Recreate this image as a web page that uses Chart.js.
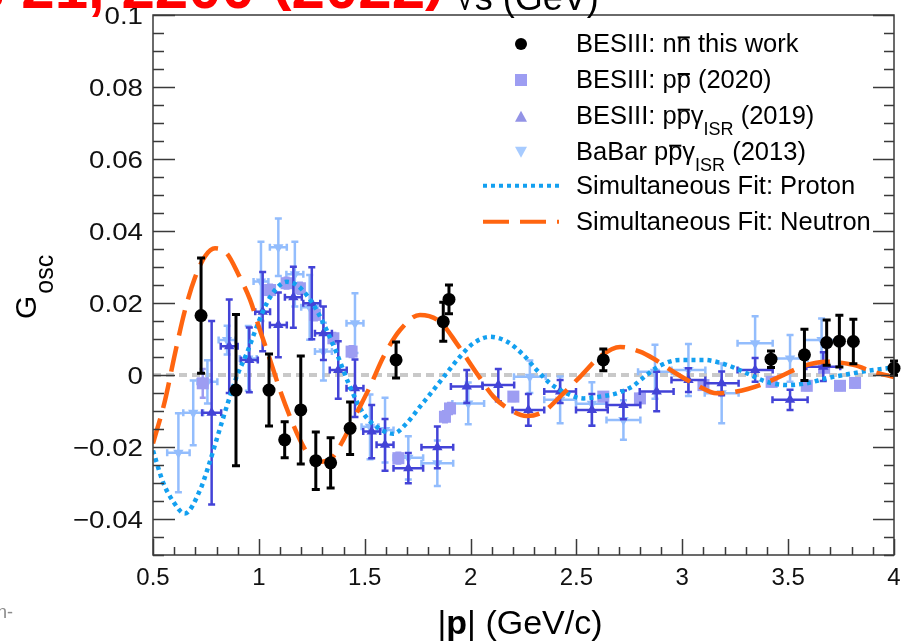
<!DOCTYPE html>
<html>
<head>
<meta charset="utf-8">
<script src="https://cdn.jsdelivr.net/npm/chart.js@4.4.0/dist/chart.umd.min.js"></script>
<style>
  html, body { margin: 0; padding: 0; background: #ffffff; }
  canvas { display: block; }
</style>
</head>
<body>
<canvas id="chart" width="903" height="641"></canvas>
<script>
// ---- BESIII n nbar (this work) ----
const nnMomentum = [0.727, 0.892, 1.048, 1.122, 1.198, 1.269, 1.339, 1.431, 1.648, 1.871, 1.898, 2.627, 3.419, 3.577, 3.682, 3.742, 3.808, 4.0];
const nnGosc     = [0.0165, -0.0042, -0.0042, -0.0180, -0.0097, -0.0238, -0.0244, -0.0148, 0.0042, 0.0148, 0.0210, 0.0042, 0.0044, 0.0056, 0.0090, 0.0094, 0.0093, 0.0019];
const nnErr      = [0.0160, 0.0210, 0.0100, 0.0050, 0.0150, 0.0080, 0.0070, 0.0073, 0.0050, 0.0054, 0.0040, 0.0030, 0.0023, 0.0071, 0.0063, 0.0072, 0.0062, 0.0020];

// ---- BESIII p pbar (2020) ----
const ppMomentum = [0.735, 1.053, 1.131, 1.194, 1.265, 1.352, 1.438, 1.659, 1.879, 1.903, 2.202, 2.627, 2.800, 3.100, 3.422, 3.588, 3.670, 3.745, 3.816];
const ppGosc     = [-0.0023, 0.0236, 0.0255, 0.0241, 0.0167, 0.0102, 0.0065, -0.0231, -0.0116, -0.0093, -0.0060, -0.0060, -0.0065, -0.0028, -0.0019, -0.0030, 0.0020, -0.0030, -0.0022];
const ppErr      = [0.0040, 0.0015, 0.0015, 0.0015, 0.0015, 0.0015, 0.0015, 0.0015, 0.0015, 0.0015, 0.0012, 0.0012, 0.0012, 0.0012, 0.0012, 0.0012, 0.0012, 0.0012, 0.0012];

// ---- BESIII p pbar gamma_ISR (2019) ----
const isrMomentum = [0.777, 0.860, 0.955, 1.018, 1.092, 1.163, 1.250, 1.305, 1.375, 1.454, 1.533, 1.596, 1.706, 1.843, 1.982, 2.131, 2.273, 2.423, 2.573, 2.722, 2.879, 3.029, 3.186, 3.344, 3.509, 3.666];
const isrGosc     = [-0.0105, 0.0080, 0.0042, 0.0176, 0.0139, 0.0216, 0.0199, 0.0116, 0.0014, -0.0037, -0.0157, -0.0194, -0.0259, -0.0201, -0.0032, -0.0028, -0.0097, -0.0046, -0.0097, -0.0083, -0.0046, -0.0014, -0.0023, 0.0014, -0.0069, 0.0023];
const isrErr      = [0.0255, 0.0130, 0.0090, 0.0110, 0.0090, 0.0085, 0.0100, 0.0074, 0.0080, 0.0080, 0.0074, 0.0072, 0.0042, 0.0058, 0.0046, 0.0045, 0.0044, 0.0032, 0.0044, 0.0040, 0.0055, 0.0033, 0.0033, 0.0033, 0.0028, 0.0040];
const isrXErr     = [0.045, 0.040, 0.040, 0.035, 0.040, 0.040, 0.040, 0.040, 0.040, 0.040, 0.040, 0.040, 0.070, 0.075, 0.075, 0.075, 0.075, 0.075, 0.075, 0.080, 0.080, 0.080, 0.080, 0.083, 0.083, 0.080];

// ---- BaBar p pbar gamma_ISR (2013) ----
const babarMomentum = [0.620, 0.690, 0.757, 0.850, 0.950, 1.010, 1.092, 1.170, 1.240, 1.305, 1.454, 1.525, 1.596, 1.706, 1.843, 1.989, 2.280, 2.423, 2.573, 2.722, 2.871, 3.029, 3.186, 3.344, 3.509, 3.658];
const babarGosc     = [-0.0216, -0.0105, -0.0019, 0.0097, 0.0046, 0.0260, 0.0355, 0.0280, 0.0188, 0.0065, 0.0144, -0.0144, -0.0153, -0.0230, -0.0245, -0.0079, -0.0005, -0.0069, -0.0080, -0.0125, 0.0009, 0.0014, -0.0051, 0.0088, 0.0046, 0.0097];
const babarErr      = [0.0110, 0.0090, 0.0060, 0.0040, 0.0090, 0.0110, 0.0080, 0.0090, 0.0090, 0.0080, 0.0083, 0.0090, 0.0090, 0.0060, 0.0063, 0.0058, 0.0045, 0.0065, 0.0060, 0.0055, 0.0075, 0.0072, 0.0083, 0.0075, 0.0065, 0.0060];
const babarXErr     = [0.053, 0.047, 0.047, 0.040, 0.040, 0.035, 0.040, 0.040, 0.040, 0.040, 0.040, 0.040, 0.040, 0.070, 0.075, 0.075, 0.075, 0.075, 0.075, 0.080, 0.080, 0.080, 0.080, 0.083, 0.083, 0.080];

// ---- Simultaneous fit curves (sampled) ----
const protonFitP = [0.50, 0.549, 0.596, 0.650, 0.722, 0.761, 0.800, 0.848, 0.895, 0.943, 0.990, 1.037, 1.084, 1.131, 1.179, 1.226, 1.273, 1.320, 1.368, 1.430, 1.493, 1.572, 1.635, 1.698, 1.761, 1.824, 1.887, 1.950, 2.013, 2.092, 2.171, 2.249, 2.312, 2.375, 2.454, 2.533, 2.611, 2.690, 2.769, 2.800, 2.895, 2.990, 3.100, 3.210, 3.304, 3.399, 3.493, 3.588, 3.682, 3.808, 3.903, 4.00];
const protonFitG = [-0.0210, -0.0300, -0.0352, -0.0385, -0.0320, -0.0255, -0.0180, -0.0088, -0.0005, 0.0060, 0.0134, 0.0199, 0.0241, 0.0259, 0.0250, 0.0222, 0.0180, 0.0125, 0.0060, -0.0032, -0.0106, -0.0150, -0.0163, -0.0134, -0.0088, -0.0042, 0.0005, 0.0051, 0.0088, 0.0106, 0.0093, 0.0056, 0.0014, -0.0023, -0.0051, -0.0065, -0.0060, -0.0051, -0.0030, -0.0015, 0.0026, 0.0042, 0.0042, 0.0028, 0.0005, -0.0019, -0.0028, -0.0023, -0.0009, 0.0005, 0.0014, 0.0021];
const neutronFitP = [0.50, 0.557, 0.604, 0.651, 0.698, 0.746, 0.793, 0.848, 0.903, 0.958, 1.005, 1.053, 1.100, 1.147, 1.194, 1.242, 1.289, 1.344, 1.399, 1.462, 1.525, 1.588, 1.667, 1.761, 1.856, 1.934, 2.029, 2.108, 2.202, 2.265, 2.344, 2.423, 2.517, 2.611, 2.706, 2.800, 2.863, 2.958, 3.068, 3.163, 3.257, 3.367, 3.478, 3.572, 3.682, 3.808, 3.903, 4.00];
const neutronFitG = [-0.0190, -0.0070, 0.0060, 0.0180, 0.0270, 0.0330, 0.0352, 0.0338, 0.0280, 0.0210, 0.0125, 0.0042, -0.0042, -0.0116, -0.0180, -0.0227, -0.0241, -0.0231, -0.0180, -0.0106, -0.0032, 0.0050, 0.0125, 0.0167, 0.0148, 0.0088, 0.0005, -0.0060, -0.0102, -0.0114, -0.0102, -0.0060, -0.0005, 0.0051, 0.0078, 0.0065, 0.0046, 0.0009, -0.0028, -0.0051, -0.0046, -0.0028, 0.0000, 0.0025, 0.0037, 0.0028, 0.0009, -0.0006];

// ---- Axes ----
const xRange = [0.5, 4];
const yRange = [-0.05, 0.1];
const xTicks = [0.5, 1, 1.5, 2, 2.5, 3, 3.5, 4];
const xTickLabels = ['0.5', '1', '1.5', '2', '2.5', '3', '3.5', '4'];
const yTicks = [-0.04, -0.02, 0, 0.02, 0.04, 0.06, 0.08, 0.1];
const yTickLabels = ['\u22120.04', '\u22120.02', '0', '0.02', '0.04', '0.06', '0.08', '0.1'];

const FONT = "'Liberation Sans', Arial, Helvetica, sans-serif";
const COLORS = {
  nn: '#000000',
  pp: '#9d9df2',
  isr: '#4343d7',
  isrLegend: '#9393e6',
  babar: '#93bdfd',
  babarLegend: '#a7cbff',
  proton: '#13a0f0',
  neutron: '#ff6510',
  zero: '#c9c9c9'
};

const pts = (xs, ys) => xs.map((x, i) => ({ x: x, y: ys[i] }));

// Error bars with end caps, drawn just before each dataset's markers
const errorBars = {
  id: 'errorBars',
  beforeDatasetDraw(chart, args) {
    const ds = chart.data.datasets[args.index];
    if (!ds.errY && !ds.errX) return;
    const xs = chart.scales.x, ys = chart.scales.y, ctx = chart.ctx;
    const cap = ds.capSize || 4;
    ctx.save();
    ctx.strokeStyle = ds.errColor;
    ctx.lineWidth = ds.errWidth || 2;
    ds.data.forEach((p, i) => {
      const px = xs.getPixelForValue(p.x), py = ys.getPixelForValue(p.y);
      ctx.beginPath();
      if (ds.errY) {
        const t = ys.getPixelForValue(p.y + ds.errY[i]);
        const b = ys.getPixelForValue(p.y - ds.errY[i]);
        ctx.moveTo(px, t); ctx.lineTo(px, b);
        if (Math.abs(b - t) > 4) {
          ctx.moveTo(px - cap, t); ctx.lineTo(px + cap, t);
          ctx.moveTo(px - cap, b); ctx.lineTo(px + cap, b);
        }
      }
      if (ds.errX) {
        const l = xs.getPixelForValue(p.x - ds.errX[i]);
        const r = xs.getPixelForValue(p.x + ds.errX[i]);
        ctx.moveTo(l, py); ctx.lineTo(r, py);
        ctx.moveTo(l, py - cap); ctx.lineTo(l, py + cap);
        ctx.moveTo(r, py - cap); ctx.lineTo(r, py + cap);
      }
      ctx.stroke();
    });
    ctx.restore();
  }
};

// Text with optional overline / subscript / bold / raised pieces
function drawRich(ctx, x, y, parts, size, color) {
  let cx = x;
  ctx.fillStyle = color || '#000';
  ctx.textAlign = 'left';
  ctx.textBaseline = 'alphabetic';
  for (const p of parts) {
    const fs = p.size || size;
    ctx.font = (p.bold ? 'bold ' : '') + fs + 'px ' + FONT;
    const dy = p.dy || 0;
    ctx.fillText(p.t, cx, y + dy);
    const w = ctx.measureText(p.t).width;
    if (p.over) ctx.fillRect(cx + 1, y - size * 0.6, w - 2, 2);
    cx += w;
  }
  return cx - x;
}

function richWidth(ctx, parts, size) {
  let w = 0;
  for (const p of parts) {
    ctx.font = (p.bold ? 'bold ' : '') + (p.size || size) + 'px ' + FONT;
    w += ctx.measureText(p.t).width;
  }
  return w;
}

// Frame, inward ticks, labels, titles and legend
const frameAndText = {
  id: 'frameAndText',
  afterDraw(chart) {
    const ctx = chart.ctx, a = chart.chartArea;
    const xs = chart.scales.x, ys = chart.scales.y;
    ctx.save();

    // frame
    ctx.strokeStyle = '#3a3a3a';
    ctx.lineWidth = 1.5;
    ctx.strokeRect(a.left, a.top, a.right - a.left, a.bottom - a.top);

    // y ticks (left and right)
    ctx.beginPath();
    for (let k = 0; k <= 30; k++) {
      const v = yRange[0] + k * 0.005;
      const py = Math.round(ys.getPixelForValue(v)) + 0.5;
      const major = Math.abs(Math.round(v / 0.02) * 0.02 - v) < 1e-9;
      const lenL = major ? 22 : 11, lenR = major ? 21 : 10;
      ctx.moveTo(a.left, py); ctx.lineTo(a.left + lenL, py);
      ctx.moveTo(a.right, py); ctx.lineTo(a.right - lenR, py);
    }
    // x ticks (bottom)
    for (let k = 0; k <= 35; k++) {
      const v = xRange[0] + k * 0.1;
      const px = Math.round(xs.getPixelForValue(v)) + 0.5;
      const major = k % 5 === 0;
      ctx.moveTo(px, a.bottom); ctx.lineTo(px, a.bottom - (major ? 16 : 8));
    }
    ctx.stroke();

    // tick labels
    ctx.fillStyle = '#111';
    ctx.font = '24.5px ' + FONT;
    ctx.textAlign = 'right';
    ctx.textBaseline = 'alphabetic';
    yTicks.forEach((v, i) => {
      ctx.save();
      ctx.translate(143, ys.getPixelForValue(v) + 8.5);
      ctx.scale(1.13, 1);
      ctx.fillText(yTickLabels[i], 0, 0);
      ctx.restore();
    });
    ctx.textAlign = 'center';
    ctx.font = '24px ' + FONT;
    xTicks.forEach((v, i) => {
      ctx.fillText(xTickLabels[i], xs.getPixelForValue(v), 585);
    });

    // x title: |p| (GeV/c)
    const xt = [{ t: '|' }, { t: 'p', bold: true }, { t: '| (GeV/c)' }];
    const xw = richWidth(ctx, xt, 34);
    drawRich(ctx, 520 - xw / 2, 634, xt, 34, '#000');

    // y title: G_osc (rotated)
    ctx.save();
    ctx.translate(36, 319);
    ctx.rotate(-Math.PI / 2);
    ctx.fillStyle = '#000';
    ctx.font = '30px ' + FONT;
    ctx.textAlign = 'left';
    ctx.fillText('G', 0, 0);
    const gw = ctx.measureText('G').width;
    ctx.font = '25px ' + FONT;
    ctx.fillText('osc', gw + 2, 17);
    ctx.restore();

    // legend
    const rows = [
      { base: 51.7, my: 44 },
      { base: 88.3, my: 80 },
      { base: 124, my: 116.7 },
      { base: 160, my: 151.7 },
      { base: 194, my: 185.7 },
      { base: 230, my: 221.7 }
    ];
    const mx = 521, tx = 576, fs = 25.5;
    // markers
    ctx.fillStyle = COLORS.nn;
    ctx.beginPath(); ctx.arc(mx, rows[0].my, 6, 0, Math.PI * 2); ctx.fill();
    ctx.fillStyle = COLORS.pp;
    ctx.fillRect(mx - 6, rows[1].my - 6, 12, 12);
    ctx.fillStyle = COLORS.isrLegend;
    ctx.beginPath();
    ctx.moveTo(mx, rows[2].my - 6); ctx.lineTo(mx + 6, rows[2].my + 5); ctx.lineTo(mx - 6, rows[2].my + 5);
    ctx.closePath(); ctx.fill();
    ctx.fillStyle = COLORS.babarLegend;
    ctx.beginPath();
    ctx.moveTo(mx, rows[3].my + 6); ctx.lineTo(mx + 6, rows[3].my - 5); ctx.lineTo(mx - 6, rows[3].my - 5);
    ctx.closePath(); ctx.fill();
    ctx.lineWidth = 4;
    ctx.strokeStyle = COLORS.proton;
    ctx.setLineDash([4, 4]);
    ctx.beginPath(); ctx.moveTo(483, rows[4].my); ctx.lineTo(559, rows[4].my); ctx.stroke();
    ctx.strokeStyle = COLORS.neutron;
    ctx.setLineDash([26, 11]);
    ctx.beginPath(); ctx.moveTo(483, rows[5].my); ctx.lineTo(559, rows[5].my); ctx.stroke();
    ctx.setLineDash([]);

    const sub = { size: 18, dy: 11 };
    drawRich(ctx, tx, rows[0].base, [{ t: 'BESIII: n' }, { t: 'n', over: true }, { t: ' this work' }], fs);
    drawRich(ctx, tx, rows[1].base, [{ t: 'BESIII: p' }, { t: 'p', over: true }, { t: ' (2020)' }], fs);
    drawRich(ctx, tx, rows[2].base, [{ t: 'BESIII: p' }, { t: 'p', over: true }, { t: '\u03b3' }, Object.assign({ t: 'ISR' }, sub), { t: ' (2019)' }], fs);
    drawRich(ctx, tx, rows[3].base, [{ t: 'BaBar p' }, { t: 'p', over: true }, { t: '\u03b3' }, Object.assign({ t: 'ISR' }, sub), { t: ' (2013)' }], fs);
    drawRich(ctx, tx, rows[4].base, [{ t: 'Simultaneous Fit: Proton' }], fs);
    drawRich(ctx, tx, rows[5].base, [{ t: 'Simultaneous Fit: Neutron' }], fs);

    // header line running off the top edge
    const head = [
      { t: 'Nature Phys 21, 2200 ', bold: true },
      { t: '(', bold: true, dy: -9 },
      { t: '2022', bold: true },
      { t: ')', bold: true, dy: -9 }
    ];
    const hw = richWidth(ctx, head, 60);
    drawRich(ctx, 445 - hw, 8, head, 60, '#ff0000');
    ctx.textAlign = 'left';
    ctx.fillStyle = '#000';
    ctx.font = '36px ' + FONT;
    ctx.fillText('\u221as (GeV)', 455, 10);

    // side note fragment at the lower left
    ctx.fillStyle = '#8a8a8a';
    ctx.font = '18px ' + FONT;
    ctx.fillText('n-', -3, 618);

    ctx.restore();
  }
};

const ctx = document.getElementById('chart').getContext('2d');
new Chart(ctx, {
  type: 'scatter',
  data: {
    datasets: [
      {
        label: 'zero',
        data: [{ x: xRange[0], y: 0 }, { x: xRange[1], y: 0 }],
        showLine: true, pointRadius: 0,
        borderColor: COLORS.zero, borderWidth: 4, borderDash: [8, 5],
        order: 9
      },
      {
        label: 'BaBar ppbar gamma ISR (2013)',
        data: pts(babarMomentum, babarGosc),
        errY: babarErr, errX: babarXErr, errColor: COLORS.babar, errWidth: 2.5, capSize: 3.5,
        pointStyle: 'triangle', rotation: 180, pointRadius: 6,
        backgroundColor: COLORS.babar, borderWidth: 0,
        order: 8
      },
      {
        label: 'BESIII ppbar (2020)',
        data: pts(ppMomentum, ppGosc),
        errY: ppErr, errColor: COLORS.pp, errWidth: 2.5, capSize: 3,
        pointStyle: 'rect', pointRadius: 8.5,
        backgroundColor: COLORS.pp, borderWidth: 0,
        order: 7
      },
      {
        label: 'BESIII ppbar gamma ISR (2019)',
        data: pts(isrMomentum, isrGosc),
        errY: isrErr, errX: isrXErr, errColor: COLORS.isr, errWidth: 2.5, capSize: 3.5,
        pointStyle: 'triangle', pointRadius: 6,
        backgroundColor: COLORS.isr, borderWidth: 0,
        order: 6
      },
      {
        label: 'Simultaneous Fit: Proton',
        data: pts(protonFitP, protonFitG),
        showLine: true, pointRadius: 0,
        borderColor: COLORS.proton, borderWidth: 4.5, borderDash: [4, 4],
        cubicInterpolationMode: 'monotone',
        order: 5
      },
      {
        label: 'Simultaneous Fit: Neutron',
        data: pts(neutronFitP, neutronFitG),
        showLine: true, pointRadius: 0,
        borderColor: COLORS.neutron, borderWidth: 4.5, borderDash: [26, 11],
        cubicInterpolationMode: 'monotone',
        order: 4
      },
      {
        label: 'BESIII nnbar this work',
        data: pts(nnMomentum, nnGosc),
        errY: nnErr, errColor: COLORS.nn, errWidth: 3, capSize: 4,
        pointStyle: 'circle', pointRadius: 6.5,
        backgroundColor: COLORS.nn, borderWidth: 0,
        clip: false,
        order: 1
      }
    ]
  },
  options: {
    responsive: false,
    animation: false,
    devicePixelRatio: 1,
    events: [],
    layout: { padding: { left: 153, top: 15, right: 9, bottom: 86 } },
    scales: {
      x: { type: 'linear', min: xRange[0], max: xRange[1], display: false },
      y: { type: 'linear', min: yRange[0], max: yRange[1], display: false }
    },
    plugins: {
      legend: { display: false },
      tooltip: { enabled: false }
    }
  },
  plugins: [errorBars, frameAndText]
});
</script>
</body>
</html>
